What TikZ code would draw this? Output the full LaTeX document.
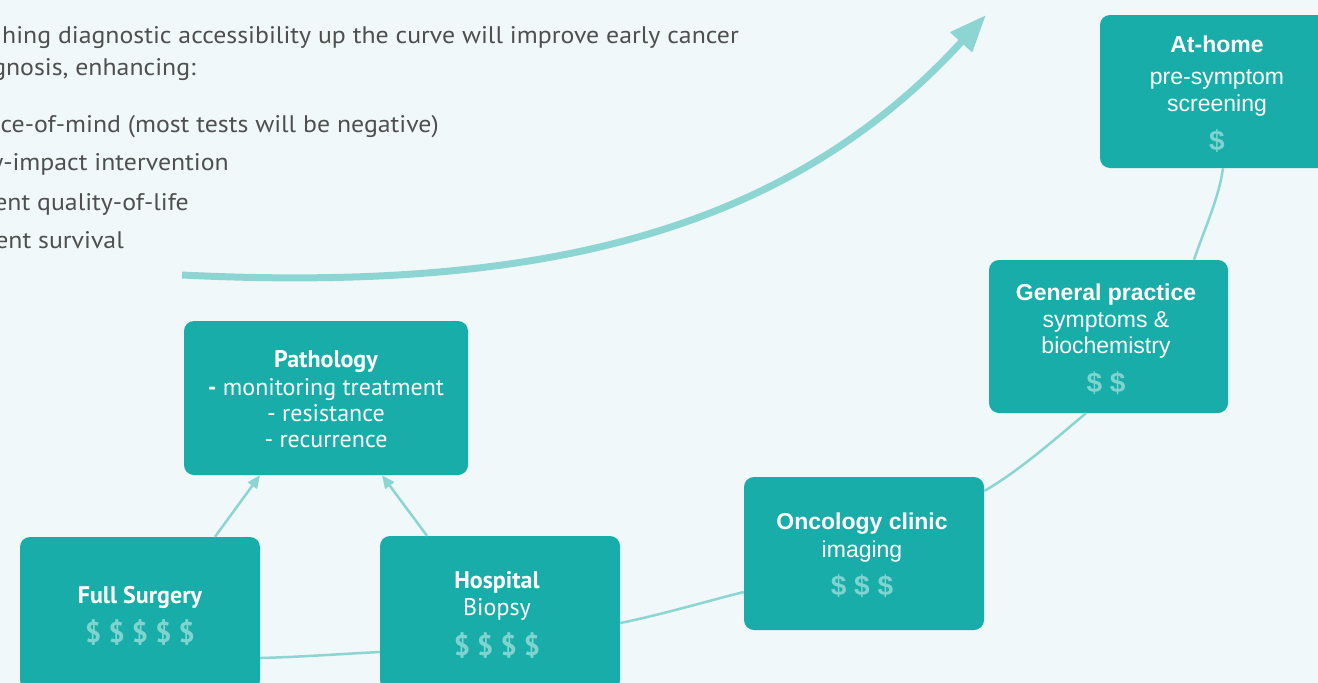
\documentclass[tikz,border=0pt]{standalone}
\usepackage{fontspec}
\setmainfont{Liberation Sans}
\newfontfamily\condf{PT Sans}
\newfontfamily\condw[FakeStretch=1.075]{PT Sans}
\usetikzlibrary{arrows.meta,calc}
\definecolor{bgc}{HTML}{F0F8F9}
\definecolor{boxc}{HTML}{18ADA8}
\definecolor{dolc}{HTML}{80D4CF}
\definecolor{curvec}{HTML}{8CD5D2}
\definecolor{txtc}{HTML}{4F4F4F}
\begin{document}
\begin{tikzpicture}[x=1pt,y=-1pt,
  box/.style={draw=none, fill=boxc, rounded corners=10pt, inner sep=0pt},
  rt/.style={text=white, anchor=base, inner sep=0pt, font=\fontsize{23}{27}\selectfont},
  rtb/.style={rt, font=\fontsize{23}{27}\selectfont\bfseries},
  rdol/.style={rt, text=dolc, font=\fontsize{28}{27}\selectfont\bfseries},
  lt/.style={text=white, anchor=base, inner sep=0pt, font=\condf\fontsize{24}{27}\selectfont},
  ltb/.style={lt, font=\condf\fontsize{24}{27}\selectfont\bfseries},
  ldol/.style={lt, text=dolc, font=\condf\fontsize{28.5}{27}\selectfont\bfseries},
  tt/.style={text=txtc, anchor=base east, inner sep=0pt, font=\condw\fontsize{24}{30}\selectfont},
  conn/.style={draw=curvec, line width=2.5pt},
  bigarrow/.style={draw=curvec, line width=7pt, -{Triangle[length=37pt,width=28pt]}}
]
\fill[bgc] (0,0) rectangle (1318,683);
\useasboundingbox (0,0) rectangle (1318,683);

% intro text
\node[tt] (l1) at (739,43) {hing diagnostic accessibility up the curve will improve early cancer};
\node[tt] (l2) at (196,75) {gnosis, enhancing:};
\node[tt] (l3) at (439,132) {ce-of-mind (most tests will be negative)};
\node[tt] (l4) at (229,170) {y-impact intervention};
\node[tt] (l5) at (189,210) {ent quality-of-life};
\node[tt] (l6) at (124,248) {ent survival};

% big arrow
\coordinate (arrS) at (182,275);
\coordinate (arrE) at (986,15);
\draw[bigarrow] (arrS) .. controls (532,292) and (784,236) .. (arrE);

% boxes
\node[box, minimum width=234pt, minimum height=153pt] (ah) at (1217,91.5) {};
\node[box, minimum width=239pt, minimum height=153pt] (gp) at (1108.5,336.5) {};
\node[box, minimum width=240pt, minimum height=153pt] (oc) at (864,553.5) {};
\node[box, minimum width=240pt, minimum height=154pt] (ho) at (500,613) {};
\node[box, minimum width=240pt, minimum height=153pt] (fs) at (140,613.5) {};
\node[box, minimum width=284pt, minimum height=154pt] (pa) at (326,398) {};

% connectors along the curve
\draw[conn] ($(fs.east)+(0,44.5)$) .. controls +(40,-1) and +(-40,2) .. ($(ho.west)+(0,39)$);
\draw[conn] ($(ho.east)+(0,10)$) .. controls +(40,-8) and +(-40,10) .. ($(oc.west)+(0,38.5)$);
\draw[conn] ($(oc.east)+(0,-62.5)$) .. controls +(35,-20) and +(-30,25) .. ($(gp.south)+(-22.5,0)$);
\draw[conn] ($(gp.north)+(85.5,0)$) .. controls +(10,-30) and +(-4,30) .. ($(ah.south)+(6,0)$);

% arrows to pathology
\draw[conn, -{Triangle[length=13pt,width=11pt]}] ($(fs.north)+(75,0)$) -- ($(pa.south)+(-66,0)$);
\draw[conn, -{Triangle[length=13pt,width=11pt]}] ($(ho.north)+(-73,0)$) -- ($(pa.south)+(56,0)$);

% texts in right boxes
\node[rtb] (aht1) at (1217,52) {At-home};
\node[rt] (aht2) at (1217,84) {pre-symptom};
\node[rt] (aht3) at (1217,111) {screening};
\node[rdol] (ahd) at (1217,150) {\$};

\node[rtb] (gpt1) at (1106,300) {General practice};
\node[rt] (gpt2) at (1106,327) {symptoms \&};
\node[rt] (gpt3) at (1106,353) {biochemistry};
\node[rdol] (gpd) at (1106,392) {\$ \$};

\node[rtb] (oct1) at (862,529) {Oncology clinic};
\node[rt] (oct2) at (862,557) {imaging};
\node[rdol] (ocd) at (862,595) {\$ \$ \$};

% texts in left boxes
\node[ltb] (pat1) at (326,367) {Pathology};
\node[lt] (pat2) at (326,395) {\textbf{-} monitoring treatment};
\node[lt] (pat3) at (326,421) {- resistance};
\node[lt] (pat4) at (326,447) {- recurrence};

\node[ltb] (fst1) at (140,603) {Full Surgery};
\node[ldol] (fsd) at (140,642) {\$ \$ \$ \$ \$};

\node[ltb] (hot1) at (497,588) {Hospital};
\node[lt] (hot2) at (497,615) {Biopsy};
\node[ldol] (hod) at (497,655) {\$ \$ \$ \$};
\end{tikzpicture}
\end{document}
